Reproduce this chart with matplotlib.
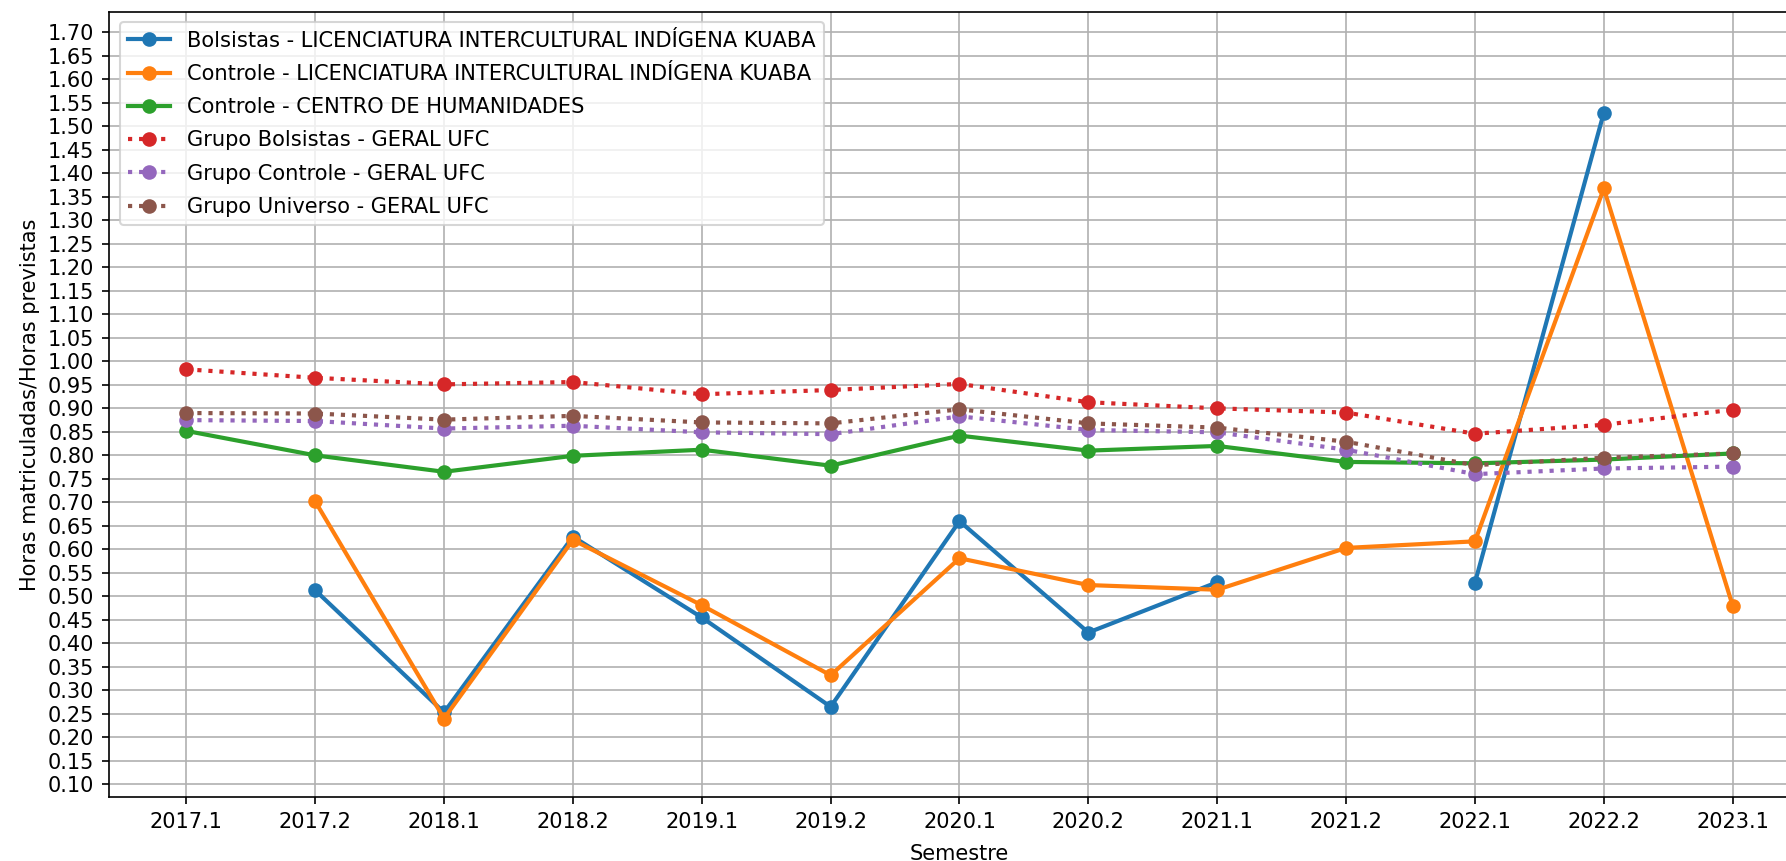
import numpy as np
import matplotlib
matplotlib.use("Agg")
import matplotlib.pyplot as plt

plt.rcParams['font.family'] = ['DejaVu Sans']

semestres = ["2017.1", "2017.2", "2018.1", "2018.2", "2019.1", "2019.2", "2020.1",
             "2020.2", "2021.1", "2021.2", "2022.1", "2022.2", "2023.1"]

nan = np.nan
bolsistas_kuaba = [nan, 0.513, 0.253, 0.627, 0.455, 0.265, 0.660,
                   0.423, 0.530, nan, 0.529, 1.529, nan]
controle_kuaba = [nan, 0.702, 0.240, 0.620, 0.481, 0.332, 0.581,
                  0.524, 0.514, 0.603, 0.617, 1.368, 0.480]
controle_ch = [0.852, 0.800, 0.765, 0.799, 0.812, 0.778, 0.842,
               0.810, 0.820, 0.786, 0.783, 0.791, 0.804]
grupo_bolsistas = [0.983, 0.965, 0.951, 0.956, 0.930, 0.939, 0.952,
                   0.913, 0.900, 0.891, 0.846, 0.865, 0.897]
grupo_controle = [0.875, 0.873, 0.857, 0.863, 0.849, 0.845, 0.883,
                  0.854, 0.849, 0.812, 0.760, 0.772, 0.776]
grupo_universo = [0.890, 0.889, 0.876, 0.884, 0.870, 0.868, 0.898,
                  0.868, 0.859, 0.829, 0.779, 0.795, 0.804]

series = [
    ("Bolsistas - LICENCIATURA INTERCULTURAL INDÍGENA KUABA", bolsistas_kuaba, "-", "#1f77b4"),
    ("Controle - LICENCIATURA INTERCULTURAL INDÍGENA KUABA", controle_kuaba, "-", "#ff7f0e"),
    ("Controle - CENTRO DE HUMANIDADES", controle_ch, "-", "#2ca02c"),
    ("Grupo Bolsistas - GERAL UFC", grupo_bolsistas, ":", "#d62728"),
    ("Grupo Controle - GERAL UFC", grupo_controle, ":", "#9467bd"),
    ("Grupo Universo - GERAL UFC", grupo_universo, ":", "#8c564b"),
]

dpi = 150
W, H = 1786, 861
fig = plt.figure(figsize=(W / dpi, H / dpi), dpi=dpi)
ax = fig.add_axes([109 / W, (H - 797) / H, (1810 - 109) / W, (797 - 11.7) / H])

x = np.arange(len(semestres))
for label, vals, ls, color in series:
    ax.plot(x, vals, linestyle=ls, marker="o", color=color, label=label,
            linewidth=2, markersize=6)

ax.set_xticks(x)
ax.set_xticklabels(semestres)
ax.set_xlim(-0.6, 12.6)
yt = np.round(np.arange(0.10, 1.7001, 0.05), 2)
ax.set_yticks(yt)
ax.set_yticklabels([f"{v:.2f}" for v in yt])
ax.set_ylim(0.073, 1.744)
ax.grid(True)
ax.set_xlabel("Semestre", labelpad=6)
ax.set_ylabel("Horas matriculadas/Horas previstas")
ax.legend(loc="upper left", fontsize=10.1, labelspacing=0.63)

fig.savefig("out.png", dpi=dpi)
